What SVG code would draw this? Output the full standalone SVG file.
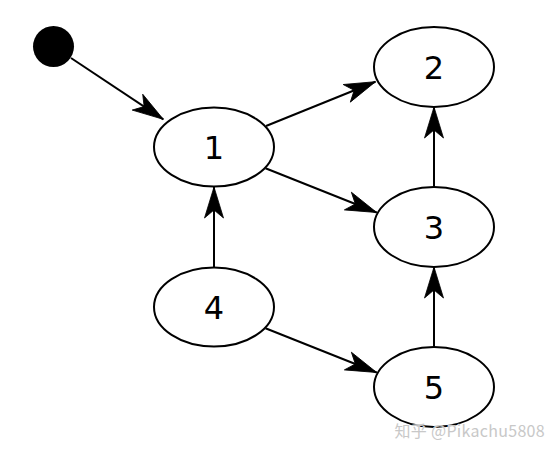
<svg xmlns="http://www.w3.org/2000/svg" width="560" height="454" viewBox="0 0 560 454">
<style>
.node ellipse{fill:#fff;stroke:#000;stroke-width:2}
.node text{font-family:"DejaVu Sans",Verdana,sans-serif;font-size:32px;text-anchor:middle;fill:#000}
.edges line{stroke:#000;stroke-width:2;marker-end:url(#ah)}
.wm{font-family:"Noto Sans CJK SC","Noto Sans",sans-serif;font-size:16px;letter-spacing:0.3px;fill:#c8c8c8;stroke:#fff;stroke-width:0.6;paint-order:stroke;text-anchor:end}
</style>
<defs>
<marker id="ah" markerUnits="userSpaceOnUse" markerWidth="40" markerHeight="26" viewBox="-36 -13 40 26" refX="0" refY="0" orient="auto">
<path d="M0,0 L-31,-9.5 L-23,0 L-31,9.5 Z" fill="#000" stroke="#000" stroke-width="0.8" stroke-linejoin="miter"/>
</marker>
</defs>
<rect width="560" height="454" fill="#fff"/>
<g class="edges" id="edges">
<line x1="71" y1="58" x2="163.3" y2="119.3"/>
<line x1="266" y1="126" x2="375.5" y2="81.7"/>
<line x1="265.5" y1="168.3" x2="376.7" y2="212.5"/>
<line x1="434" y1="187" x2="434" y2="107"/>
<line x1="214" y1="267" x2="214" y2="187"/>
<line x1="265.5" y1="328.3" x2="376.7" y2="372.5"/>
<line x1="434" y1="347" x2="434" y2="267"/>
</g>
<g id="start"><circle cx="53.5" cy="46.5" r="20.5" fill="#000"/></g>
<g class="node" id="n1"><ellipse cx="214" cy="147" rx="60" ry="39.5"/><text x="214" y="158.5">1</text></g>
<g class="node" id="n2"><ellipse cx="434" cy="67" rx="60" ry="40"/><text x="434" y="79">2</text></g>
<g class="node" id="n3"><ellipse cx="434" cy="227" rx="60" ry="40"/><text x="434" y="239">3</text></g>
<g class="node" id="n4"><ellipse cx="214" cy="307" rx="60" ry="39.5"/><text x="214" y="319">4</text></g>
<g class="node" id="n5"><ellipse cx="434" cy="387" rx="60" ry="40"/><text x="434" y="399">5</text></g>
<text class="wm" x="545" y="437">知乎 @Pikachu5808</text>
</svg>
